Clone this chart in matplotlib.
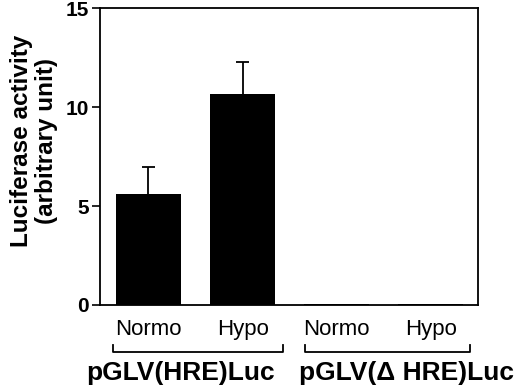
import matplotlib
matplotlib.use("Agg")
import matplotlib.pyplot as plt
import matplotlib.transforms as mtransforms

categories = ["Normo", "Hypo", "Normo", "Hypo"]
values = [5.62, 10.65, 0.05, 0.05]
errors = [1.35, 1.65, 0.0, 0.0]
groups = ["pGLV(HRE)Luc", "pGLV(Δ HRE)Luc"]
yticks = [0, 5, 10, 15]

plt.rcParams["font.family"] = ["Liberation Sans", "DejaVu Sans"]

fig = plt.figure(figsize=(5.2, 3.9), dpi=100)
ax = fig.add_axes([0.1923, 0.218, 0.7267, 0.761])

x = list(range(len(values)))
ax.bar(x, values, width=0.69, color="black", zorder=2)
# upper-only error bars with a cap
for xi, v, e in zip(x, values, errors):
    if e > 0:
        ax.vlines(xi, v, v + e, color="black", lw=1.3, zorder=1)
        ax.hlines(v + e, xi - 0.065, xi + 0.065, color="black", lw=1.3, zorder=1)

ax.set_xlim(-0.515, 3.5)
ax.set_ylim(0, 15)
ax.set_yticks(yticks)
ax.set_yticklabels([str(t) for t in yticks], fontsize=15, fontweight="bold")
ax.tick_params(axis="y", direction="out", length=6, width=1.2, pad=2)
ax.set_xticks(x)
ax.set_xticklabels(categories, fontsize=16)
ax.tick_params(axis="x", length=0, pad=10)
for spine in ax.spines.values():
    spine.set_linewidth(1.3)

ax.set_ylabel("Luciferase activity\n(arbitrary unit)", fontsize=17.5,
              fontweight="bold", linespacing=1.1)
ax.yaxis.set_label_coords(-0.112, 0.552)

trans = mtransforms.blended_transform_factory(ax.transData, ax.transAxes)
brackets = [(-0.377, 1.43), (1.66, 3.42)]
label_x = [0.345, 2.745]
for (x0, x1), lx, label in zip(brackets, label_x, groups):
    ax.plot([x0, x0, x1, x1], [-0.135, -0.158, -0.158, -0.135], color="black",
            lw=1.3, transform=trans, clip_on=False)
    ax.text(lx, -0.228, label, transform=trans, ha="center",
            va="center", fontsize=19, fontweight="bold")

fig.savefig("out.png", dpi=100, facecolor="white")
